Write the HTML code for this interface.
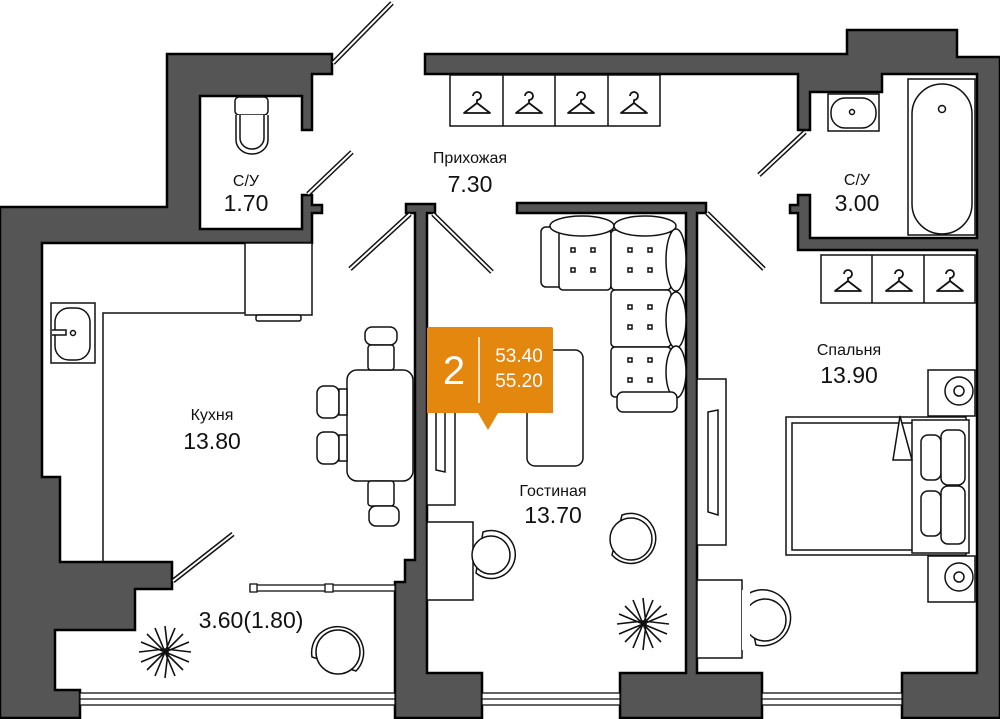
<!DOCTYPE html>
<html><head><meta charset="utf-8"><style>
html,body{margin:0;padding:0;background:#fff;width:1000px;height:719px;overflow:hidden}
svg{display:block}
text{font-family:"Liberation Sans",sans-serif;fill:#111;text-anchor:middle}
.n{font-size:16px}.a{font-size:23px}
</style></head><body>
<svg width="1000" height="719" viewBox="0 0 1000 719" xmlns="http://www.w3.org/2000/svg">
<defs>
<g id="h"><path d="M-4,-8 a4,4 0 1 1 4,4 v3 M0,-1 L-13,9 H13 Z" fill="none" stroke="#111" stroke-width="1.8" stroke-linejoin="round"/></g>
</defs>
<g fill="#555" stroke="#000" stroke-width="2.5" stroke-linejoin="miter">
<path d="M167,54 H332 V74 H312 V130 H302 V96 H200 V229 H302 V195 H312 V205 H322 V213 H312 V243 H42 V477 H60 V562 H172 V589 H135 V630 H55 V690 H80 V718 H0 V207 H167 Z"/>
<path d="M406,204 H435 V213 H427 V673 H482 V718 H395 V582 H405 V560 H415 V213 H406 Z"/>
<path d="M425,54 H847 V30 H957 V57 H1000 V718 H902 V673 H977 V250 H798 V213 H790 V205 H798 V195 H810 V238 H977 V74 H882 V92 H810 V130 H798 V74 H425 Z"/>
<path d="M517,203 H706 V213 H697 V673 H762 V718 H620 V673 H686 V213 H517 Z"/>
</g>
<g fill="#fff" stroke="#111" stroke-width="1.3">
<rect x="80" y="693" width="315" height="12"/><line x1="80" y1="699" x2="395" y2="699"/>
<rect x="482" y="693" width="138" height="12"/><line x1="482" y1="699" x2="620" y2="699"/>
<rect x="762" y="693" width="140" height="12"/><line x1="762" y1="699" x2="902" y2="699"/>
<rect x="250" y="585" width="145" height="6"/><rect x="250" y="584" width="7" height="8"/><rect x="325" y="584" width="8" height="8"/>
</g>
<g stroke-linecap="butt">
<g stroke="#111" stroke-width="5">
<line x1="333" y1="63" x2="392" y2="3"/><line x1="308" y1="194" x2="352" y2="152"/>
<line x1="410" y1="214" x2="350" y2="269"/><line x1="433" y1="214" x2="492" y2="272"/>
<line x1="707" y1="213" x2="764" y2="269"/><line x1="805" y1="132" x2="759" y2="175"/>
<line x1="173" y1="581" x2="233" y2="534"/></g>
<g stroke="#fff" stroke-width="2">
<line x1="333" y1="63" x2="392" y2="3"/><line x1="308" y1="194" x2="352" y2="152"/>
<line x1="410" y1="214" x2="350" y2="269"/><line x1="433" y1="214" x2="492" y2="272"/>
<line x1="707" y1="213" x2="764" y2="269"/><line x1="805" y1="132" x2="759" y2="175"/>
<line x1="173" y1="581" x2="233" y2="534"/></g>
</g>
<g fill="#fff" stroke="#111" stroke-width="1.5">
<rect x="450" y="75" width="210" height="51"/>
<line x1="503" y1="75" x2="503" y2="126"/><line x1="555" y1="75" x2="555" y2="126"/><line x1="608" y1="75" x2="608" y2="126"/>
<rect x="821" y="255" width="154" height="48"/>
<line x1="872" y1="255" x2="872" y2="303"/><line x1="924" y1="255" x2="924" y2="303"/>
<rect x="235" y="97" width="33" height="18" rx="4"/>
<path d="M236,115 V140 a16,14 0 0 0 32,0 V115"/><path d="M240,115 V138 a12,11 0 0 0 24,0 V115"/>
<rect x="828" y="94" width="51" height="37"/><rect x="831" y="98" width="45" height="30" rx="14"/>
<rect x="908" y="79" width="67" height="156"/><rect x="912" y="84" width="60" height="150" rx="30"/>
<circle cx="942" cy="109" r="3.5"/><circle cx="852" cy="112" r="2.5"/>
<rect x="245" y="243" width="67" height="72"/><rect x="256" y="315" width="45" height="6" rx="2"/>
<path d="M103,562 V313 H245"/>
<rect x="51" y="303" width="44" height="60"/><rect x="55" y="308" width="35" height="52" rx="14"/>
<path d="M52,330 H66 V335 H52"/><circle cx="73" cy="333" r="2.5"/>
<rect x="347" y="370" width="66" height="111" rx="10"/>
<rect x="365" y="327" width="32" height="18" rx="7"/><rect x="368" y="345" width="26" height="25" rx="3"/>
<rect x="368" y="481" width="26" height="25" rx="3"/><rect x="369" y="506" width="30" height="20" rx="7"/>
<rect x="317" y="386" width="22" height="32" rx="7"/><rect x="339" y="389" width="8" height="26"/>
<rect x="317" y="432" width="22" height="32" rx="7"/><rect x="339" y="435" width="8" height="26"/>
<rect x="541" y="227" width="22" height="60" rx="5"/>
<rect x="559" y="230" width="52" height="60" rx="4"/><rect x="611" y="230" width="60" height="60" rx="4"/>
<rect x="611" y="290" width="60" height="57" rx="4"/><rect x="611" y="347" width="60" height="50" rx="4"/>
<ellipse cx="582" cy="226" rx="32" ry="10"/><ellipse cx="645" cy="226" rx="31" ry="10"/>
<ellipse cx="676" cy="260" rx="10" ry="31"/><ellipse cx="676" cy="320" rx="10" ry="28"/><ellipse cx="676" cy="372" rx="10" ry="26"/>
<rect x="617" y="392" width="60" height="20" rx="6"/>
<rect x="527" y="350" width="56" height="116" rx="8"/>
<rect x="427" y="380" width="28" height="125"/><path d="M436,410 V470 L445,472 V410 Z"/>
<rect x="427" y="522" width="46" height="78"/>
<path d="M483,532 A24,24 0 1 1 476,573 Z"/><circle cx="491" cy="555" r="19"/>
<path d="M622,515 A25,25 0 1 1 612,555 Z"/><circle cx="631" cy="539" r="21"/>
<path d="M312,657 A26,26 0 1 1 356,671 Z"/><circle cx="338" cy="652" r="22"/>
<rect x="697" y="379" width="29" height="166"/><path d="M708,412 V512 L718,515 V410 Z"/>
<rect x="928" y="370" width="47" height="46"/><circle cx="959" cy="391" r="14"/><circle cx="959" cy="391" r="5"/>
<rect x="928" y="556" width="47" height="46"/><circle cx="959" cy="577" r="14"/><circle cx="959" cy="577" r="5"/>
<rect x="786" y="417" width="180" height="138"/><rect x="792" y="423" width="175" height="127"/>
<rect x="912" y="420" width="57" height="133"/>
<rect x="921" y="435" width="20" height="45" rx="7"/><rect x="941" y="430" width="24" height="55" rx="7"/>
<rect x="921" y="491" width="20" height="45" rx="7"/><rect x="941" y="486" width="24" height="58" rx="7"/>
<path d="M900,416 L912,460 H893 Z"/>
<rect x="697" y="580" width="45" height="78"/>
<path d="M745,596 A28,28 0 1 1 756,645 Z"/><circle cx="765" cy="620" r="21"/>
<rect x="742" y="590" width="8" height="60" stroke="none"/>
</g>
<g fill="none" stroke="#111" stroke-width="1.5">
<g id="b"><rect x="571" y="248" width="4" height="4"/><rect x="591" y="248" width="4" height="4"/><rect x="571" y="268" width="4" height="4"/><rect x="591" y="268" width="4" height="4"/></g>
<use href="#b" x="57"/><use href="#b" x="57" y="57"/><use href="#b" x="57" y="110"/>
</g>
<use href="#h" x="477" y="104"/><use href="#h" x="529" y="104"/><use href="#h" x="581" y="104"/><use href="#h" x="634" y="104"/>
<use href="#h" x="848" y="282"/><use href="#h" x="899" y="282"/><use href="#h" x="950" y="282"/>
<g stroke="#111" stroke-width="1.6" fill="none">
<g transform="translate(165,652)"><path d="M0,-26 L3,0 L0,26 M-26,0 L0,-3 L26,0 M-18,-18 L2,2 L18,18 M18,-18 L-2,2 L-18,18 M-10,-24 L0,0 L10,24 M10,-24 L0,0 L-10,24 M-24,-10 L0,0 L24,10 M24,-10 L0,0 L-24,10"/></g>
<g transform="translate(643,624)"><path d="M0,-26 L3,0 L0,26 M-26,0 L0,-3 L26,0 M-18,-18 L2,2 L18,18 M18,-18 L-2,2 L-18,18 M-10,-24 L0,0 L10,24 M10,-24 L0,0 L-10,24 M-24,-10 L0,0 L24,10 M24,-10 L0,0 L-24,10"/></g>
</g>
<path d="M427,329 a2,2 0 0 1 2,-2 H551 a2,2 0 0 1 2,2 V413 H498 L488,430 L478,413 H427 Z" fill="#e4870f"/>
<text x="454" y="384" style="font-size:40px;fill:#fff">2</text>
<line x1="479" y1="337" x2="479" y2="403" stroke="#fff" stroke-width="1.5"/>
<text x="519" y="362" style="font-size:19px;fill:#fff">53.40</text>
<text x="519" y="387" style="font-size:19px;fill:#fff">55.20</text>
<text class="n" x="470" y="163">Прихожая</text><text class="a" x="470" y="192">7.30</text>
<text class="n" x="246" y="186">С/У</text><text class="a" x="246" y="211">1.70</text>
<text class="n" x="857" y="185">С/У</text><text class="a" x="857" y="211">3.00</text>
<text class="n" x="212" y="420">Кухня</text><text class="a" x="212" y="449">13.80</text>
<text class="n" x="553" y="496">Гостиная</text><text class="a" x="553" y="523">13.70</text>
<text class="n" x="849" y="355">Спальня</text><text class="a" x="849" y="383">13.90</text>
<text class="a" x="251" y="628">3.60(1.80)</text>
</svg>
</body></html>
